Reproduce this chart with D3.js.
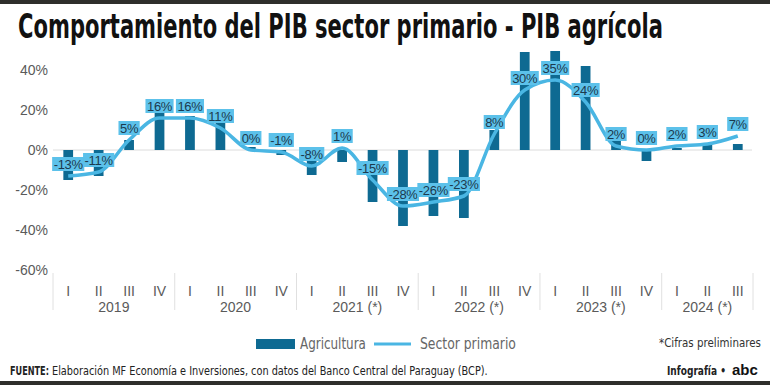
<!DOCTYPE html>
<html>
<head>
<meta charset="utf-8">
<script src="https://cdn.jsdelivr.net/npm/d3@7"></script>
<style>
body { margin: 0; background: #fff; }
svg { display: block; }
text { font-family: "Liberation Sans", Arial, sans-serif; }
.cond { font-family: "Liberation Sans Narrow", "DejaVu Sans Condensed", "Liberation Sans", sans-serif; }
</style>
</head>
<body>
<svg id="canvas" width="770" height="385"></svg>
<script>
// quarters 2019 I .. 2024 III
var quarters = ["I","II","III","IV","I","II","III","IV","I","II","III","IV",
                "I","II","III","IV","I","II","III","IV","I","II","III"];
var yearLabels = ["2019", "2020", "2021 (*)", "2022 (*)", "2023 (*)", "2024 (*)"];
var quartersPerYear = [4, 4, 4, 4, 4, 3];

// Agricultura (bars)
var agricultura = [-15, -13, 5, 19, 17, 14, 1.5, -2.5, -12.5, -6, -26, -38,
                   -33, -34, 10, 49, 49.5, 42, 5, -5.5, 1, 3, 3];
// Sector primario (line), from the labels
var sectorPrimario = [-13, -11, 5, 16, 16, 11, 0, -1, -8, 1, -15, -28,
                      -26, -23, 8, 30, 35, 24, 2, 0, 2, 3, 7];

var yTicks = [-60, -40, -20, 0, 20, 40];

var barColor = "#0e6a92";
var lineColor = "#4ab6e3";
var boxColor = "#5cc1ea";

var svg = d3.select("#canvas");

// squeeze a text horizontally so it spans "width" px starting at x
function fitText(t, x, y, width){
    var natural = t.node().getComputedTextLength();
    var k = Math.min(1, width / natural);
    t.attr("x", 0).attr("y", 0)
        .attr("transform", "translate(" + x + "," + y + ") scale(" + k + ",1)");
    return t;
}

// top and bottom dark rules
svg.append("rect").attr("x", 0).attr("y", 0).attr("width", 770).attr("height", 4).attr("fill", "#2e2e2b");
svg.append("rect").attr("x", 0).attr("y", 381).attr("width", 770).attr("height", 4).attr("fill", "#2e2e2b");

// title
var title = svg.append("text")
    .attr("class", "cond")
    .attr("font-size", 34).attr("font-weight", "bold")
    .attr("fill", "#111")
    .text("Comportamiento del PIB sector primario - PIB agrícola");
fitText(title, 18, 38, 645);

var idx = d3.range(quarters.length);
var x = d3.scaleBand().domain(idx).range([53, 753]).paddingInner(0.68).paddingOuter(0.34);
var y = d3.scaleLinear().domain([-60, 40]).range([270, 70]);

// y labels
svg.append("g").selectAll("text").data(yTicks).join("text")
    .attr("x", 48).attr("y", function(d){ return y(d) + 5; })
    .attr("text-anchor", "end")
    .attr("font-size", 14).attr("fill", "#5a5a5a")
    .text(function(d){ return d + "%"; });

// zero line
svg.append("line")
    .attr("x1", 53).attr("x2", 752)
    .attr("y1", y(0)).attr("y2", y(0))
    .attr("stroke", "#dcdcdc").attr("stroke-width", 1);

// bars
svg.append("g").selectAll("rect").data(agricultura).join("rect")
    .attr("x", function(d, i){ return x(i); })
    .attr("width", x.bandwidth())
    .attr("y", function(d){ return Math.min(y(d), y(0)); })
    .attr("height", function(d){ return Math.abs(y(d) - y(0)); })
    .attr("fill", barColor);

// line
var line = d3.line()
    .x(function(d, i){ return x(i) + x.bandwidth() / 2; })
    .y(function(d){ return y(d); })
    .curve(d3.curveMonotoneX);

svg.append("path")
    .datum(sectorPrimario)
    .attr("d", line)
    .attr("fill", "none")
    .attr("stroke", lineColor)
    .attr("stroke-width", 3.5)
    .attr("stroke-linejoin", "round");

// value labels
var labels = svg.append("g");
sectorPrimario.forEach(function(v, i){
    var cx = x(i) + x.bandwidth() / 2;
    var cy = y(v) - 12;
    var g = labels.append("g");
    var box = g.append("rect").attr("fill", boxColor);
    var t = g.append("text")
        .attr("x", cx).attr("y", cy + 4.8)
        .attr("text-anchor", "middle")
        .attr("font-size", 13).attr("fill", "#1c3a4e")
        .attr("letter-spacing", -0.3)
        .text(v + "%");
    var w = t.node().getComputedTextLength() + 3;
    box.attr("x", cx - w / 2).attr("y", cy - 7).attr("width", w).attr("height", 14);
});

// x axis: quarters, years, separators
var axis = svg.append("g");
axis.selectAll("text.q").data(quarters).join("text")
    .attr("class", "q")
    .attr("x", function(d, i){ return x(i) + x.bandwidth() / 2; })
    .attr("y", 296)
    .attr("text-anchor", "middle")
    .attr("font-size", 14).attr("fill", "#5a5a5a")
    .text(function(d){ return d; });

var start = 0;
var seps = [53];
yearLabels.forEach(function(lbl, k){
    var n = quartersPerYear[k];
    var x0 = x(start) - x.step() * x.paddingInner() / 2;
    var x1 = x(start + n - 1) + x.bandwidth() + x.step() * x.paddingInner() / 2;
    axis.append("text")
        .attr("x", (x0 + x1) / 2).attr("y", 312)
        .attr("text-anchor", "middle")
        .attr("font-size", 14).attr("fill", "#5a5a5a")
        .text(lbl);
    seps.push(x1);
    start += n;
});
axis.selectAll("line").data(seps).join("line")
    .attr("x1", function(d){ return d; }).attr("x2", function(d){ return d; })
    .attr("y1", 273).attr("y2", 310)
    .attr("stroke", "#e0e0e0").attr("stroke-width", 1);

// legend
var lg = svg.append("g");
lg.append("rect").attr("x", 256).attr("y", 339).attr("width", 39).attr("height", 10).attr("fill", barColor);
fitText(lg.append("text").attr("class", "cond")
    .attr("font-size", 15).attr("fill", "#666")
    .text("Agricultura"), 300, 349, 66);
lg.append("line").attr("x1", 374).attr("x2", 411).attr("y1", 344).attr("y2", 344)
    .attr("stroke", lineColor).attr("stroke-width", 3);
fitText(lg.append("text").attr("class", "cond")
    .attr("font-size", 15).attr("fill", "#666")
    .text("Sector primario"), 420, 349, 96);

fitText(svg.append("text").attr("class", "cond")
    .attr("font-size", 13).attr("fill", "#333")
    .text("*Cifras preliminares"), 659, 347, 102);

// footer
fitText(svg.append("text").attr("class", "cond")
    .attr("font-size", 13).attr("font-weight", "bold").attr("fill", "#222")
    .text("FUENTE:"), 10, 375, 39);
fitText(svg.append("text").attr("class", "cond")
    .attr("font-size", 13).attr("fill", "#222")
    .text("Elaboración MF Economía e Inversiones, con datos del Banco Central del Paraguay (BCP)."), 52, 375, 436);

fitText(svg.append("text").attr("class", "cond")
    .attr("font-size", 13).attr("font-weight", "bold").attr("fill", "#222")
    .text("Infografía •"), 667, 375, 59);
fitText(svg.append("text")
    .attr("font-size", 15).attr("font-weight", "900").attr("fill", "#111")
    .text("abc"), 732, 375, 30);
</script>
</body>
</html>
